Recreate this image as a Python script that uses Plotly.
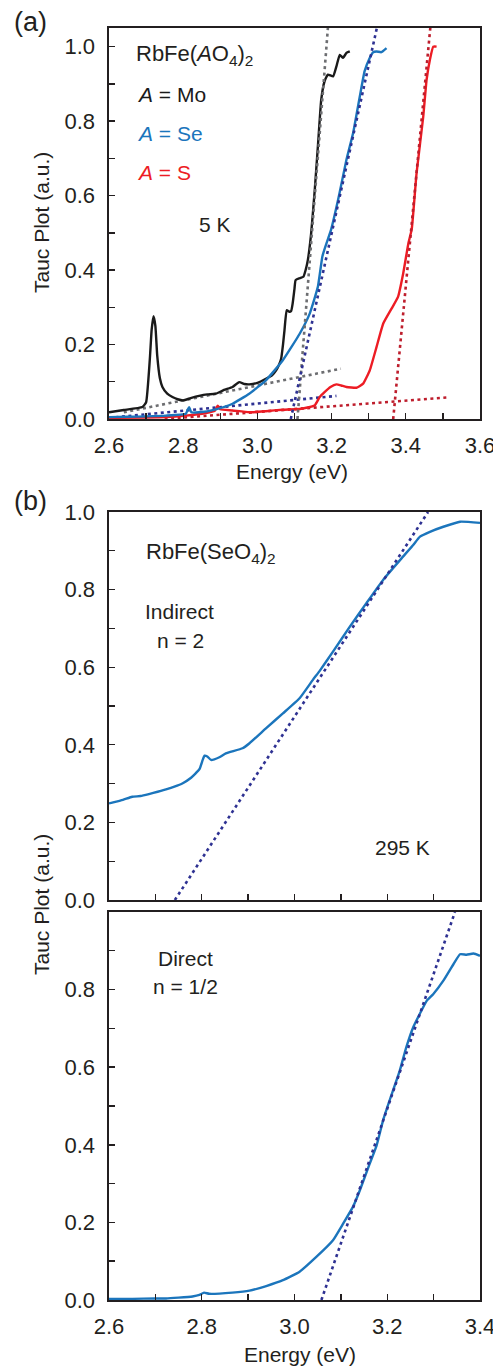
import plotly.graph_objects as go

# ---------------- Panel (a) data (5 K) ----------------
mo_x = [2.60, 2.64, 2.69, 2.70, 2.71, 2.715, 2.72, 2.725, 2.73, 2.737, 2.744, 2.757, 2.771, 2.785, 2.80,
        2.82, 2.843, 2.865, 2.888, 2.91, 2.933, 2.951, 2.965, 2.978, 3.00, 3.023, 3.04, 3.05, 3.058, 3.064,
        3.069, 3.073, 3.079, 3.086, 3.091, 3.095, 3.100, 3.103, 3.114, 3.124, 3.13, 3.136, 3.145, 3.155,
        3.165, 3.172, 3.181, 3.19, 3.204, 3.213, 3.222, 3.231, 3.24, 3.249]
mo_y = [0.018, 0.024, 0.032, 0.045, 0.16, 0.24, 0.276, 0.25, 0.17, 0.11, 0.086, 0.068, 0.059, 0.053, 0.05,
        0.056, 0.062, 0.066, 0.068, 0.078, 0.086, 0.099, 0.094, 0.093, 0.097, 0.108, 0.118, 0.13, 0.145, 0.162,
        0.20, 0.238, 0.292, 0.288, 0.29, 0.31, 0.35, 0.373, 0.378, 0.382, 0.40, 0.427, 0.50, 0.62,
        0.76, 0.857, 0.907, 0.925, 0.92, 0.947, 0.978, 0.97, 0.983, 0.987]

se_x = [2.60, 2.65, 2.70, 2.753, 2.807, 2.812, 2.816, 2.822, 2.843, 2.888, 2.933, 2.978, 3.023, 3.068, 3.114,
        3.141, 3.163, 3.175, 3.181, 3.199, 3.22, 3.24, 3.258, 3.276, 3.289, 3.303, 3.312, 3.321, 3.334, 3.348]
se_y = [0.005, 0.006, 0.007, 0.009, 0.014, 0.025, 0.032, 0.018, 0.018, 0.026, 0.041, 0.068, 0.104, 0.157, 0.229,
        0.283, 0.355, 0.436, 0.456, 0.51, 0.60, 0.696, 0.768, 0.866, 0.934, 0.970, 0.985, 0.987, 0.985, 0.996]

s_x = [2.60, 2.70, 2.753, 2.807, 2.861, 2.885, 2.893, 2.90, 2.933, 2.978, 3.023, 3.068, 3.114, 3.154, 3.168,
       3.181, 3.197, 3.213, 3.226, 3.24, 3.267, 3.285, 3.303, 3.321, 3.339, 3.362, 3.379, 3.393, 3.407, 3.416,
       3.429, 3.447, 3.456, 3.465, 3.474, 3.483]
s_y = [0.003, 0.004, 0.005, 0.009, 0.016, 0.022, 0.036, 0.026, 0.023, 0.018, 0.021, 0.025, 0.027, 0.036, 0.059,
       0.072, 0.086, 0.093, 0.090, 0.086, 0.084, 0.095, 0.131, 0.193, 0.256, 0.297, 0.328, 0.391, 0.472, 0.51,
       0.66, 0.812, 0.911, 0.965, 1.0, 1.0]

# linear fits (a)
mo_fit_steep_x = [3.108, 3.19]
mo_fit_steep_y = [0.0, 1.05]
mo_fit_base_x = [2.64, 3.225]
mo_fit_base_y = [0.018, 0.135]
se_fit_steep_x = [3.09, 3.322]
se_fit_steep_y = [0.0, 1.05]
se_fit_base_x = [2.60, 3.213]
se_fit_base_y = [0.003, 0.062]
s_fit_steep_x = [3.366, 3.466]
s_fit_steep_y = [0.0, 1.05]
s_fit_base_x = [2.75, 3.515]
s_fit_base_y = [0.0, 0.058]

# ---------------- Panel (b) data (295 K, RbFe(SeO4)2) ----------------
ind_x = [2.600, 2.607, 2.63, 2.65, 2.668, 2.686, 2.705, 2.723, 2.741, 2.759, 2.777, 2.795, 2.802, 2.806, 2.812,
         2.82, 2.838, 2.852, 2.888, 2.903, 2.939, 2.975, 3.011, 3.04, 3.054, 3.083, 3.119, 3.155, 3.191, 3.234,
         3.256, 3.27, 3.292, 3.321, 3.357, 3.40]
ind_y = [0.249, 0.251, 0.258, 0.266, 0.268, 0.273, 0.279, 0.285, 0.292, 0.301, 0.315, 0.337, 0.361, 0.372, 0.370,
         0.361, 0.368, 0.378, 0.391, 0.404, 0.443, 0.481, 0.52, 0.568, 0.59, 0.64, 0.704, 0.765, 0.825, 0.885,
         0.915, 0.936, 0.949, 0.962, 0.975, 0.972]
ind_fit_x = [2.742, 3.288]
ind_fit_y = [0.0, 1.0]

dir_x = [2.60, 2.65, 2.70, 2.723, 2.75, 2.78, 2.795, 2.805, 2.816, 2.866, 2.903, 2.939, 2.975, 3.011, 3.047,
         3.083, 3.105, 3.126, 3.141, 3.162, 3.177, 3.191, 3.205, 3.227, 3.241, 3.256, 3.27, 3.285, 3.299, 3.321,
         3.343, 3.357, 3.371, 3.386, 3.40]
dir_y = [0.003, 0.003, 0.004, 0.004, 0.006, 0.009, 0.013, 0.019, 0.016, 0.019, 0.024, 0.036, 0.051, 0.073, 0.111,
         0.154, 0.197, 0.24, 0.283, 0.351, 0.398, 0.463, 0.514, 0.591, 0.651, 0.703, 0.737, 0.771, 0.788, 0.823,
         0.866, 0.891, 0.89, 0.893, 0.887]
dir_fit_x = [3.058, 3.346]
dir_fit_y = [0.0, 1.0]

# tick labels
xticks_a = [2.6, 2.8, 3.0, 3.2, 3.4, 3.6]
xticks_b = [2.6, 2.8, 3.0, 3.2, 3.4]
yticks_full = [0.0, 0.2, 0.4, 0.6, 0.8, 1.0]
yticks_low = [0.0, 0.2, 0.4, 0.6, 0.8]

# ---------------- styles ----------------
BLACK = "#1a1a1a"
BLUE = "#1b75bc"
RED = "#ed1c24"
GRAY = "#6d6e71"
NAVY = "#2e3192"
DRED = "#be1e2d"
TXT = "#231f20"
FONT = "Arial, Liberation Sans, Helvetica, sans-serif"
W, H = 493, 1370
LW = 2.4
DOT = "3px,3.5px"

fig = go.Figure()


def curve(x, y, color, xa, ya):
    fig.add_trace(go.Scatter(x=x, y=y, mode="lines", xaxis=xa, yaxis=ya,
                             line=dict(color=color, width=LW, shape="spline", smoothing=0.4),
                             showlegend=False, hoverinfo="skip"))


def fit(x, y, color, xa, ya):
    fig.add_trace(go.Scatter(x=x, y=y, mode="lines", xaxis=xa, yaxis=ya,
                             line=dict(color=color, width=2.6, dash=DOT),
                             showlegend=False, hoverinfo="skip"))


# panel (a)
fit(mo_fit_base_x, mo_fit_base_y, GRAY, "x", "y")
fit(se_fit_base_x, se_fit_base_y, NAVY, "x", "y")
fit(s_fit_base_x, s_fit_base_y, DRED, "x", "y")
curve(mo_x, mo_y, BLACK, "x", "y")
curve(s_x, s_y, RED, "x", "y")
curve(se_x, se_y, BLUE, "x", "y")
fit(mo_fit_steep_x, mo_fit_steep_y, GRAY, "x", "y")
fit(se_fit_steep_x, se_fit_steep_y, NAVY, "x", "y")
fit(s_fit_steep_x, s_fit_steep_y, DRED, "x", "y")

# panel (b) top
curve(ind_x, ind_y, BLUE, "x2", "y2")
fit(ind_fit_x, ind_fit_y, NAVY, "x2", "y2")
# panel (b) bottom
curve(dir_x, dir_y, BLUE, "x3", "y3")
fit(dir_fit_x, dir_fit_y, NAVY, "x3", "y3")


def px_x(p):
    return p / W


def px_y(p):
    return 1 - p / H


minor_y = dict(ticks="inside", ticklen=6, tickwidth=1.4, tickcolor=TXT, dtick=0.1, tick0=0.0, showgrid=False)
minor_x = dict(ticks="inside", ticklen=6, tickwidth=1.4, tickcolor=TXT, dtick=0.1, tick0=2.6, showgrid=False)

axis_common = dict(showline=True, linecolor=TXT, linewidth=1.6, mirror=True, ticks="inside",
                   ticklen=6, tickwidth=1.4, tickcolor=TXT, showgrid=False, zeroline=False,
                   automargin=False, ticklabeloverflow="allow",
                   tickfont=dict(family=FONT, size=22, color=TXT), tickformat=".1f")

xdom = [px_x(109), px_x(480)]

fig.update_layout(
    template="none",
    width=W, height=H, margin=dict(l=0, r=0, t=0, b=0, pad=0), autosize=False,
    paper_bgcolor="white", plot_bgcolor="white",
    xaxis=dict(axis_common, domain=xdom, range=[2.6, 3.6], tickvals=xticks_a, anchor="y",
               ticklabelstandoff=6, minor=minor_x),
    yaxis=dict(axis_common, domain=[px_y(419), px_y(28)], range=[0, 1.05],
               tickvals=yticks_full, anchor="x", ticklabelstandoff=8, minor=minor_y),
    xaxis2=dict(axis_common, domain=xdom, range=[2.6, 3.4], tickvals=xticks_b, anchor="y2",
                showticklabels=False, minor=minor_x),
    yaxis2=dict(axis_common, domain=[px_y(900), px_y(512)], range=[0, 1.0],
                tickvals=yticks_full, anchor="x2", ticklabelstandoff=8, minor=minor_y),
    xaxis3=dict(axis_common, domain=xdom, range=[2.6, 3.4], tickvals=xticks_b, anchor="y3",
                ticklabelstandoff=6, minor=minor_x),
    yaxis3=dict(axis_common, domain=[px_y(1300), px_y(912)], range=[0, 1.0],
                tickvals=yticks_low, anchor="x3", ticklabelstandoff=8, minor=minor_y),
)


def ann(text, x, y, size=21, color=TXT, angle=0, xanchor="center"):
    fig.add_annotation(text=text, x=px_x(x), y=px_y(y), xref="paper", yref="paper",
                       showarrow=False, textangle=angle, xanchor=xanchor, yanchor="middle",
                       font=dict(family=FONT, size=size, color=color))


# panel labels
ann("(a)", 30, 22, size=27)
ann("(b)", 30, 501, size=27)
# axis titles
ann("Energy (eV)", 292, 471, size=21)
ann("Energy (eV)", 300, 1354, size=21)
ann("Tauc Plot (a.u.)", 41, 223, size=21, angle=-90)
ann("Tauc Plot (a.u.)", 41, 905, size=21, angle=-90)
# panel (a) texts
ann("RbFe(<i>A</i>O<sub>4</sub>)<sub>2</sub>", 134, 55, size=22, xanchor="left")
ann("<i>A</i> = Mo", 135, 95, color=BLACK, xanchor="left")
ann("<i>A</i> = Se", 135, 133, color=BLUE, xanchor="left")
ann("<i>A</i> = S", 135, 173, color=RED, xanchor="left")
ann("5 K", 215, 225)
# panel (b) texts
ann("RbFe(SeO<sub>4</sub>)<sub>2</sub>", 144, 553, size=22, xanchor="left")
ann("Indirect", 143, 612, xanchor="left")
ann("n = 2", 180, 641)
ann("295 K", 402, 847)
ann("Direct", 185, 958)
ann("n = 1/2", 185, 986)

fig.write_html("out.html", config={"displayModeBar": False, "staticPlot": True},
               post_script="document.body.style.margin='0';document.body.style.padding='0';"
                           "document.documentElement.style.overflow='hidden';")
